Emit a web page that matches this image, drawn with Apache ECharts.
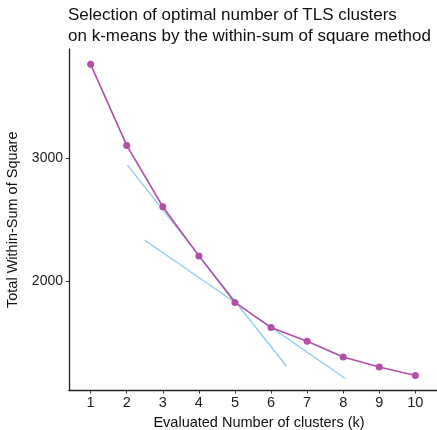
<!DOCTYPE html>
<html lang="en">
<head>
    <meta charset="UTF-8">
    <title>Elbow plot</title>
    <style>
        *{ margin: 0; }
        html,body{ width: 437px; height: 430px; background: #fff; }
        #chart{ width: 437px; height: 430px; }
    </style>
    <script src="https://cdn.jsdelivr.net/npm/echarts@6/dist/echarts.min.js"></script>
</head>
<body>
<div id="chart"></div>
<script>
    // number of clusters k and the total within-sum of square
    const kValues = [1, 2, 3, 4, 5, 6, 7, 8, 9, 10];
    const wssValues = [3768, 3106, 2605, 2204, 1824, 1619, 1507, 1379, 1297, 1227];
    // the two reference (tangent) lines, start and end points
    const steepLine = [[2.02, 2945], [6.43, 1303]];
    const flatLine = [[2.50, 2332], [8.05, 1205]];
    const yTicks = [2000, 3000];

    const font = 'Liberation Sans, Arial, Helvetica, sans-serif';
    const myChart = echarts.init(document.getElementById('chart'));

    myChart.setOption({
        animation: false,
        title: {
            text: 'Selection of optimal number of TLS clusters\non k-means by the within-sum of square method',
            left: 68,
            top: 5,
            padding: 0,
            textStyle: {
                fontFamily: font,
                fontSize: 17,
                fontWeight: 'normal',
                color: '#111',
                lineHeight: 21
            }
        },
        grid: {
            left: 69,
            right: 0,
            top: 49,
            bottom: 39.5,
            outerBoundsMode: 'none'
        },
        xAxis: {
            type: 'value',
            min: 0.4,
            max: 10.6,
            name: 'Evaluated Number of clusters (k)',
            nameLocation: 'middle',
            nameGap: 22,
            nameTextStyle: { fontFamily: font, fontSize: 14.5, color: '#111', padding: [0, 0, 0, 12] },
            splitLine: { show: false },
            axisLine: { lineStyle: { color: '#222', width: 1.3 } },
            axisTick: { customValues: kValues, length: 3, lineStyle: { color: '#333' } },
            axisLabel: { customValues: kValues, fontFamily: font, fontSize: 14.5, color: '#222', margin: 5 }
        },
        yAxis: {
            type: 'value',
            min: 1105,
            max: 3893,
            name: 'Total Within-Sum of Square',
            nameLocation: 'middle',
            nameGap: 43,
            nameTextStyle: { fontFamily: font, fontSize: 14.5, color: '#111' },
            splitLine: { show: false },
            axisLine: { show: true, lineStyle: { color: '#222', width: 1.3 } },
            axisTick: { show: true, customValues: yTicks, length: 3, lineStyle: { color: '#333' } },
            axisLabel: {
                customValues: yTicks,
                fontFamily: font,
                fontSize: 14,
                color: '#222',
                margin: 6,
                formatter: v => String(v)
            }
        },
        series: [
            {
                type: 'line',
                data: steepLine,
                symbol: 'none',
                lineStyle: { color: '#8ecbe8', width: 1.3 }
            },
            {
                type: 'line',
                data: flatLine,
                symbol: 'none',
                lineStyle: { color: '#8ecbe8', width: 1.3 }
            },
            {
                type: 'line',
                data: kValues.map((k, i) => [k, wssValues[i]]),
                symbol: 'circle',
                symbolSize: 7,
                itemStyle: { color: '#b24fa6' },
                lineStyle: { color: '#b24fa6', width: 1.6 }
            }
        ]
    });
</script>
</body>
</html>
